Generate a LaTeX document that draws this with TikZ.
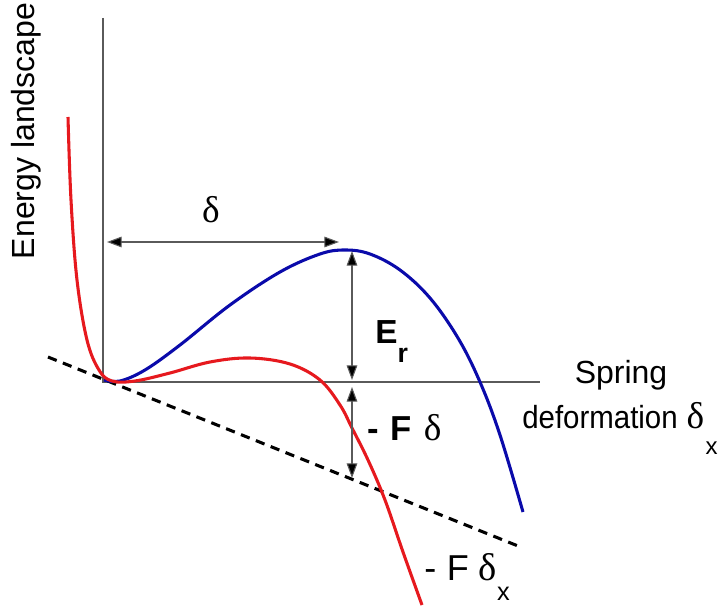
\documentclass[tikz,border=0pt]{standalone}
\usepackage{fontspec}
\setmainfont{Liberation Sans}
\newfontfamily\grk{Liberation Serif}
\usetikzlibrary{arrows.meta}
\definecolor{cblue}{RGB}{10,10,170}
\definecolor{cred}{RGB}{230,25,30}
\definecolor{axisgray}{RGB}{90,90,90}
\tikzset{
  axisline/.style={draw=axisgray, line width=0.8pt},
  dim/.style={draw=axisgray, line width=0.8pt, {Triangle[length=11pt,width=8pt,fill=black]}-{Triangle[length=11pt,width=8pt,fill=black]}},
  curve/.style={line width=2.3pt},
  lbl/.style={inner sep=0pt, font=\fontsize{24}{28}\selectfont},
}
\begin{document}
\begin{tikzpicture}[x=0.75pt,y=-0.75pt]
\useasboundingbox (0,0) rectangle (719,610);
% axes
\coordinate (o) at (103,382);
\coordinate (ytop) at (103,18);
\coordinate (xend) at (540,382);
\draw[axisline] (ytop) -- (o) -- (xend);
% dashed line
\coordinate (d1) at (48,357);
\coordinate (d2) at (523,548);
\draw[black, line width=2.3pt, dash pattern=on 7pt off 5pt] (d1) -- (d2);
% blue curve
\draw[cblue, curve] plot[smooth, tension=0.6] coordinates {
 (104,380) (120,381) (145,370) (180,345) (230,305) (280,272) (320,254) (345,250)
 (370,254) (400,270) (430,298) (458,338) (480,382) (500,435) (523,512)};
% red curve
\draw[cred, curve] plot[smooth, tension=0.6] coordinates {
 (68,117) (71,200) (77,280) (87,340) (99,370) (112,381) (135,381) (170,373)
 (210,362) (250,358) (290,364) (320,380) (340,405) (352,428) (368,460) (385,500) (403,552) (422,605)};
% dimension arrows
\coordinate (a1) at (107,242);
\coordinate (a2) at (339,242);
\draw[dim] (a1) -- (a2);
\coordinate (e1) at (352,251);
\coordinate (e2) at (352,380);
\draw[dim] (e1) -- (e2);
\coordinate (f1) at (352,387);
\coordinate (f2) at (352,478);
\draw[dim] (f1) -- (f2);
% labels
\node[lbl] (delta) at (211,210) {\fontsize{28}{30}\selectfont\grk δ};
\node[lbl, anchor=base west] (er) at (375,344) {\fontsize{25}{30}\selectfont\bfseries E\raisebox{-14pt}{\fontsize{20}{22}\selectfont r}};
\node[lbl, anchor=base west] (fd) at (367,440) {\fontsize{26}{30}\selectfont\bfseries -\hspace{9pt}F\hspace{9pt}{\grk\mdseries\fontsize{28}{30}\selectfont δ}};
\node[lbl, anchor=base] (spring) at (621,383) {Spring};
\node[lbl, anchor=base west] (deform) at (522,428) {\scalebox{0.92}[1]{\fontsize{24}{28}\selectfont deformation} {\grk\fontsize{28}{30}\selectfont δ}\hspace{1pt}\raisebox{-20pt}{\fontsize{18}{20}\selectfont x}};
\node[lbl, anchor=base west] (fdx) at (424,580) {\fontsize{27}{30}\selectfont -\hspace{8pt}F\hspace{7.5pt}{\grk\fontsize{29}{30}\selectfont δ}\raisebox{-15pt}{\fontsize{19}{20}\selectfont x}};
\node[lbl, rotate=90, anchor=base] (energy) at (34,131) {Energy landscape};
\end{tikzpicture}
\end{document}
